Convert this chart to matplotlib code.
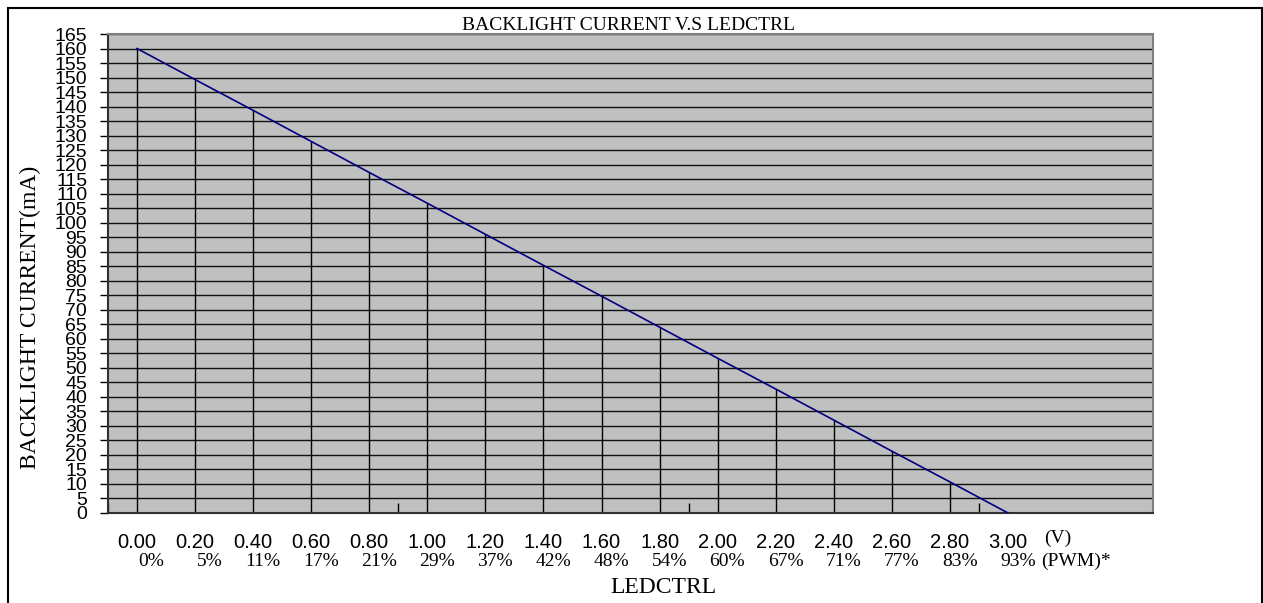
import matplotlib.pyplot as plt
from matplotlib.patches import Rectangle

# data
ledctrl_v = [0.00, 0.20, 0.40, 0.60, 0.80, 1.00, 1.20, 1.40,
             1.60, 1.80, 2.00, 2.20, 2.40, 2.60, 2.80, 3.00]
pwm_pct = [0, 5, 11, 17, 21, 29, 37, 42, 48, 54, 60, 67, 71, 77, 83, 93]
current_ma = [160, 149.3, 138.7, 128, 117.3, 106.7, 96, 85.3,
              74.7, 64, 53.3, 42.7, 32, 21.3, 10.7, 0]
y_ticks = list(range(0, 166, 5))

serif = 'Liberation Serif'
sans = 'Liberation Sans'

fig = plt.figure(figsize=(12.63, 6.03), dpi=100)
ax = fig.add_axes([0.0855, 0.1493, 0.913 - 0.0855, 0.9436 - 0.1493])
ax.set_facecolor('#c0c0c0')

# horizontal grid every 5 mA
for y in y_ticks[1:]:
    ax.axhline(y, color='#101010', lw=1.0, zorder=1)

# drop lines from each point to the axis
ax.vlines(ledctrl_v[:-1], 0, current_ma[:-1], color='black', lw=1.0, zorder=2)

# the curve itself
ax.plot(ledctrl_v, current_ma, color='#000080', lw=1.2, zorder=3)

ax.set_xlim(-0.1, 3.5)
ax.set_ylim(0, 165)

# y axis ticks and labels
ax.set_yticks(y_ticks)
ax.set_yticklabels([str(v) for v in y_ticks], fontfamily=sans, fontsize=14)
ax.tick_params(axis='y', direction='out', length=6, width=1, pad=9)

# x axis only has little inward marks, labels are drawn as text
ax.set_xticks([-0.1, 0.9, 1.9, 2.9])
ax.set_xticklabels([])
ax.tick_params(axis='x', direction='in', length=7, width=1)

for s in ['left', 'bottom']:
    ax.spines[s].set_color('#303030')
    ax.spines[s].set_linewidth(1.5)
for s in ['top', 'right']:
    ax.spines[s].set_color('#808080')
    ax.spines[s].set_linewidth(1.5)

# custom x labels: voltage and pwm duty
tr = ax.get_xaxis_transform()
for v, p in zip(ledctrl_v, pwm_pct):
    ax.text(v, -0.0626, f"{v:.2f}", transform=tr, ha='center', va='center',
            fontfamily=sans, fontsize=14.5, clip_on=False)
    ax.text(v + 0.095, -0.102, f"{p}%", transform=tr, ha='right', va='center',
            fontfamily=serif, fontsize=14, clip_on=False)
ax.text(3.124, -0.052, "(V)", transform=tr, ha='left', va='center',
        fontfamily=serif, fontsize=14, clip_on=False)
ax.text(3.113, -0.102, "(PWM)*", transform=tr, ha='left', va='center',
        fontfamily=serif, fontsize=14, clip_on=False)

# titles
fig.text(0.498, 0.9585, "BACKLIGHT CURRENT V.S LEDCTRL", ha='center', va='center',
         fontfamily=serif, fontsize=14)
fig.text(0.525, 0.0265, "LEDCTRL", ha='center', va='center',
         fontfamily=serif, fontsize=17)
fig.text(0.0238, 0.474, "BACKLIGHT CURRENT(mA)", ha='center', va='center',
         rotation=90, fontfamily=serif, fontsize=17)

# outer chart frame
fig.patches.append(Rectangle((0.0063, -0.05), 0.9929, 0.9867 + 0.05,
                             transform=fig.transFigure, fill=False,
                             edgecolor='black', lw=1.5))

fig.savefig("out.png", dpi=100)
